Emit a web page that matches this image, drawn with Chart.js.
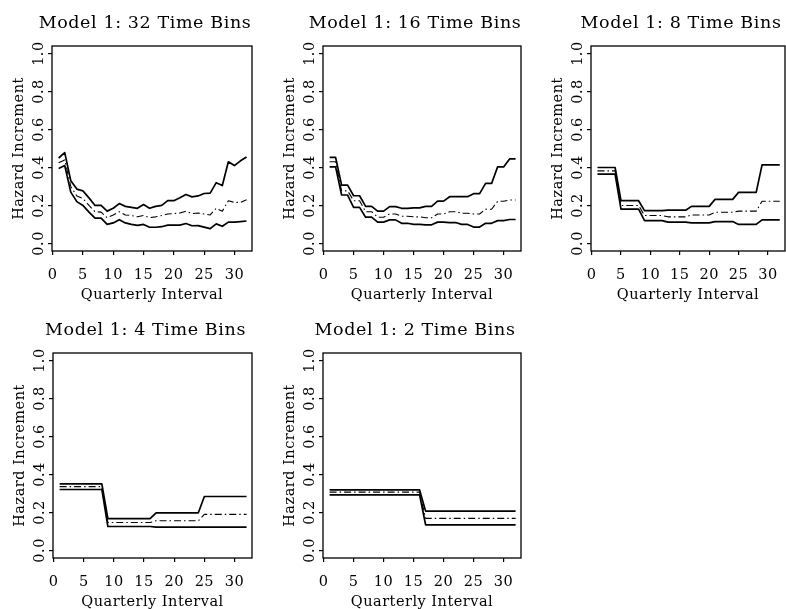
<!DOCTYPE html>
<html>
<head>
<meta charset="utf-8">
<script src="https://cdn.jsdelivr.net/npm/chart.js@4.4.1/dist/chart.umd.min.js"></script>
<style>
  html, body { margin: 0; padding: 0; background: #fff; }
  body { width: 786px; height: 609px; position: relative; overflow: hidden; }
  canvas { position: absolute; }
</style>
</head>
<body>
<script>
// x axis: quarterly intervals
const quarters = [1, 2, 3, 4, 5, 6, 7, 8, 9, 10, 11, 12, 13, 14, 15, 16,
  17, 18, 19, 20, 21, 22, 23, 24, 25, 26, 27, 28, 29, 30, 31, 32];
const xTicks = [0, 5, 10, 15, 20, 25, 30];
const yTicks = [0.0, 0.2, 0.4, 0.6, 0.8, 1.0];

const titles = [
  'Model 1: 32 Time Bins',
  'Model 1: 16 Time Bins',
  'Model 1: 8 Time Bins',
  'Model 1: 4 Time Bins',
  'Model 1: 2 Time Bins'
];

// 32 bins
const upper32 = [0.450, 0.478, 0.330, 0.286, 0.277, 0.240, 0.200, 0.200,
  0.170, 0.185, 0.210, 0.195, 0.190, 0.185, 0.205, 0.185,
  0.195, 0.200, 0.225, 0.225, 0.240, 0.258, 0.245, 0.250,
  0.263, 0.265, 0.320, 0.305, 0.430, 0.410, 0.435, 0.455];
const est32 = [0.425, 0.440, 0.300, 0.250, 0.237, 0.200, 0.167, 0.165,
  0.135, 0.150, 0.167, 0.150, 0.147, 0.140, 0.147, 0.136,
  0.140, 0.147, 0.155, 0.157, 0.160, 0.170, 0.157, 0.160,
  0.155, 0.150, 0.185, 0.170, 0.225, 0.216, 0.216, 0.230];
const lower32 = [0.395, 0.410, 0.270, 0.220, 0.200, 0.165, 0.133, 0.133,
  0.100, 0.108, 0.125, 0.108, 0.100, 0.095, 0.100, 0.085,
  0.085, 0.088, 0.096, 0.096, 0.096, 0.105, 0.093, 0.094,
  0.086, 0.078, 0.103, 0.090, 0.112, 0.112, 0.115, 0.118];

// 16 bins
const upper16 = [0.453, 0.453, 0.307, 0.307, 0.251, 0.251, 0.195, 0.195,
  0.170, 0.170, 0.194, 0.194, 0.185, 0.185, 0.187, 0.187,
  0.195, 0.195, 0.223, 0.223, 0.246, 0.246, 0.246, 0.246,
  0.262, 0.262, 0.316, 0.316, 0.403, 0.403, 0.445, 0.445];
const est16 = [0.430, 0.430, 0.277, 0.277, 0.225, 0.225, 0.167, 0.167,
  0.138, 0.138, 0.155, 0.155, 0.143, 0.143, 0.140, 0.140,
  0.135, 0.135, 0.155, 0.155, 0.167, 0.167, 0.159, 0.159,
  0.155, 0.155, 0.180, 0.180, 0.222, 0.222, 0.229, 0.229];
const lower16 = [0.403, 0.403, 0.255, 0.255, 0.190, 0.190, 0.138, 0.138,
  0.112, 0.112, 0.124, 0.124, 0.106, 0.106, 0.100, 0.100,
  0.098, 0.098, 0.112, 0.112, 0.110, 0.110, 0.100, 0.100,
  0.086, 0.086, 0.106, 0.106, 0.120, 0.120, 0.126, 0.126];

// 8 bins
const upper8 = [0.400, 0.400, 0.400, 0.400, 0.225, 0.225, 0.225, 0.225,
  0.173, 0.173, 0.173, 0.173, 0.175, 0.175, 0.175, 0.175,
  0.195, 0.195, 0.195, 0.195, 0.232, 0.232, 0.232, 0.232,
  0.269, 0.269, 0.269, 0.269, 0.414, 0.414, 0.414, 0.414];
const est8 = [0.382, 0.382, 0.382, 0.382, 0.200, 0.200, 0.200, 0.200,
  0.147, 0.147, 0.147, 0.147, 0.140, 0.140, 0.140, 0.140,
  0.150, 0.150, 0.150, 0.150, 0.164, 0.164, 0.164, 0.164,
  0.170, 0.170, 0.170, 0.170, 0.222, 0.222, 0.222, 0.222];
const lower8 = [0.365, 0.365, 0.365, 0.365, 0.181, 0.181, 0.181, 0.181,
  0.120, 0.120, 0.120, 0.120, 0.112, 0.112, 0.112, 0.112,
  0.108, 0.108, 0.108, 0.108, 0.115, 0.115, 0.115, 0.115,
  0.100, 0.100, 0.100, 0.100, 0.124, 0.124, 0.124, 0.124];

// 4 bins
const upper4 = [0.351, 0.351, 0.351, 0.351, 0.351, 0.351, 0.351, 0.351,
  0.167, 0.167, 0.167, 0.167, 0.167, 0.167, 0.167, 0.167,
  0.198, 0.198, 0.198, 0.198, 0.198, 0.198, 0.198, 0.198,
  0.284, 0.284, 0.284, 0.284, 0.284, 0.284, 0.284, 0.284];
const est4 = [0.336, 0.336, 0.336, 0.336, 0.336, 0.336, 0.336, 0.336,
  0.147, 0.147, 0.147, 0.147, 0.147, 0.147, 0.147, 0.147,
  0.156, 0.156, 0.156, 0.156, 0.156, 0.156, 0.156, 0.156,
  0.190, 0.190, 0.190, 0.190, 0.190, 0.190, 0.190, 0.190];
const lower4 = [0.321, 0.321, 0.321, 0.321, 0.321, 0.321, 0.321, 0.321,
  0.126, 0.126, 0.126, 0.126, 0.126, 0.126, 0.126, 0.126,
  0.123, 0.123, 0.123, 0.123, 0.123, 0.123, 0.123, 0.123,
  0.123, 0.123, 0.123, 0.123, 0.123, 0.123, 0.123, 0.123];

// 2 bins
const upper2 = [0.319, 0.319, 0.319, 0.319, 0.319, 0.319, 0.319, 0.319,
  0.319, 0.319, 0.319, 0.319, 0.319, 0.319, 0.319, 0.319,
  0.207, 0.207, 0.207, 0.207, 0.207, 0.207, 0.207, 0.207,
  0.207, 0.207, 0.207, 0.207, 0.207, 0.207, 0.207, 0.207];
const est2 = [0.307, 0.307, 0.307, 0.307, 0.307, 0.307, 0.307, 0.307,
  0.307, 0.307, 0.307, 0.307, 0.307, 0.307, 0.307, 0.307,
  0.169, 0.169, 0.169, 0.169, 0.169, 0.169, 0.169, 0.169,
  0.169, 0.169, 0.169, 0.169, 0.169, 0.169, 0.169, 0.169];
const lower2 = [0.293, 0.293, 0.293, 0.293, 0.293, 0.293, 0.293, 0.293,
  0.293, 0.293, 0.293, 0.293, 0.293, 0.293, 0.293, 0.293,
  0.135, 0.135, 0.135, 0.135, 0.135, 0.135, 0.135, 0.135,
  0.135, 0.135, 0.135, 0.135, 0.135, 0.135, 0.135, 0.135];

const series = [
  [upper32, est32, lower32],
  [upper16, est16, lower16],
  [upper8, est8, lower8],
  [upper4, est4, lower4],
  [upper2, est2, lower2]
];

// plot box of each panel on the page
const frames = [
  { left: 52, top: 46, width: 200, height: 205 },
  { left: 323, top: 46, width: 198, height: 205 },
  { left: 591, top: 46, width: 194, height: 205 },
  { left: 53, top: 353, width: 199, height: 205 },
  { left: 323, top: 353, width: 198, height: 205 }
];

const FONT = "'DejaVu Serif', serif";
const LEFT_M = 52, TOP_M = 46, BOTTOM_M = 54, RIGHT_M = 6;

// box around plot area + panel title
const panelFrame = {
  id: 'panelFrame',
  beforeDraw(chart) {
    chart.ctx.letterSpacing = '0.5px';
  },
  afterDraw(chart, args, opts) {
    const { ctx, chartArea: a } = chart;
    ctx.save();
    ctx.strokeStyle = '#000';
    ctx.lineWidth = 1.3;
    ctx.strokeRect(a.left, a.top, a.right - a.left, a.bottom - a.top);
    ctx.fillStyle = '#000';
    ctx.font = '17.5px ' + FONT;
    ctx.letterSpacing = '0.6px';
    ctx.textAlign = 'center';
    ctx.textBaseline = 'alphabetic';
    ctx.fillText(opts.text, (a.left + a.right) / 2 - 7, a.top - 18);
    ctx.restore();
  }
};

function lineSet(values, dashed) {
  return {
    data: quarters.map((q, i) => ({ x: q, y: values[i] })),
    borderColor: '#000',
    borderWidth: dashed ? 1.1 : 1.7,
    borderDash: dashed ? [7, 3, 1.5, 3] : [],
    borderJoinStyle: 'round',
    pointRadius: 0,
    tension: 0
  };
}

function drawPanel(idx) {
  const f = frames[idx];
  const canvas = document.createElement('canvas');
  canvas.width = LEFT_M + f.width + RIGHT_M;
  canvas.height = TOP_M + f.height + BOTTOM_M;
  canvas.style.left = (f.left - LEFT_M) + 'px';
  canvas.style.top = (f.top - TOP_M) + 'px';
  document.body.appendChild(canvas);

  const [up, est, low] = series[idx];
  const tickFont = { family: FONT, size: 14.5 };

  new Chart(canvas, {
    type: 'line',
    data: { datasets: [lineSet(up, false), lineSet(est, true), lineSet(low, false)] },
    options: {
      responsive: false,
      animation: false,
      devicePixelRatio: 1,
      layout: { padding: { left: 0, top: TOP_M, right: RIGHT_M, bottom: 0 } },
      plugins: {
        legend: { display: false },
        tooltip: { enabled: false },
        panelFrame: { text: titles[idx] }
      },
      scales: {
        x: {
          type: 'linear',
          min: -0.1,
          max: 32.9,
          afterBuildTicks: s => { s.ticks = xTicks.map(v => ({ value: v })); },
          afterFit: s => { s.height = BOTTOM_M; },
          grid: { drawOnChartArea: false, drawTicks: true, tickLength: 4, color: '#000', lineWidth: 1.2 },
          border: { display: false },
          ticks: { autoSkip: false, maxRotation: 0, padding: 12, color: '#000', font: tickFont,
            callback: v => String(v) },
          title: { display: true, text: 'Quarterly Interval', color: '#000', font: tickFont,
            padding: { top: 0, bottom: 1.5 } }
        },
        y: {
          min: -0.04,
          max: 1.04,
          afterBuildTicks: s => { s.ticks = yTicks.map(v => ({ value: v })); },
          afterFit: s => { s.width = LEFT_M; },
          grid: { drawOnChartArea: false, drawTicks: true, tickLength: 4, color: '#000', lineWidth: 1.2 },
          border: { display: false },
          ticks: { minRotation: 90, maxRotation: 90, crossAlign: 'center', padding: -3, color: '#000',
            font: tickFont, callback: v => v.toFixed(1) },
          title: { display: true, text: 'Hazard Increment', color: '#000', font: tickFont,
            padding: { top: 10.5, bottom: 0 } }
        }
      }
    },
    plugins: [panelFrame]
  });
}

for (let i = 0; i < frames.length; i++) drawPanel(i);
</script>
</body>
</html>
